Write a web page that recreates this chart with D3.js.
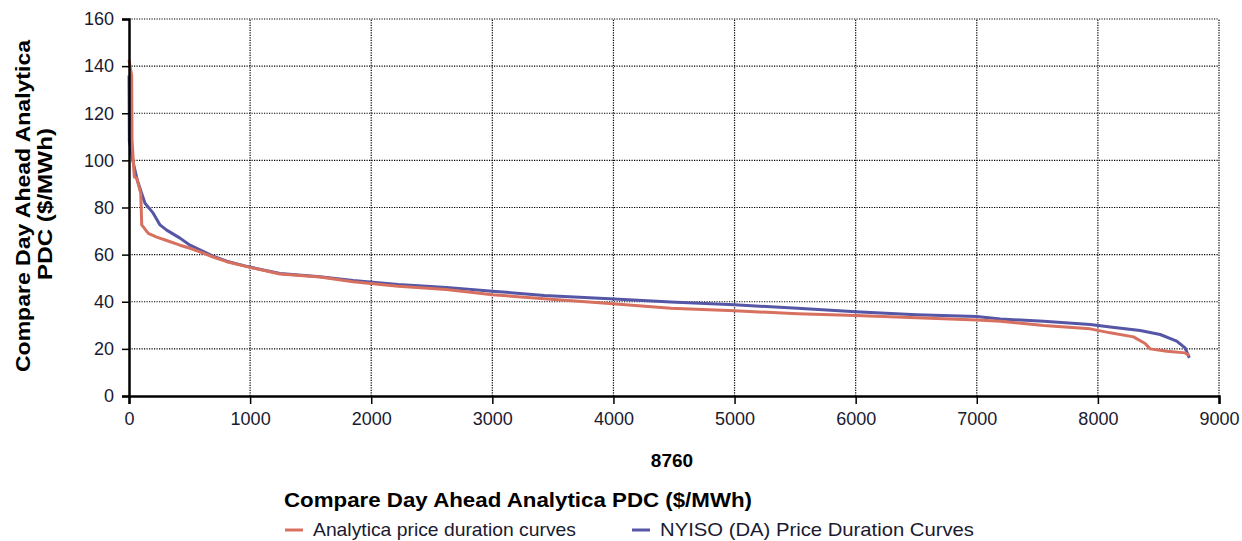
<!DOCTYPE html>
<html>
<head>
<meta charset="utf-8">
<script src="https://cdn.jsdelivr.net/npm/d3@7"></script>
<style>
  body { margin: 0; background: #fff; }
  svg text { font-family: "Liberation Sans", Arial, sans-serif; }
</style>
</head>
<body>
<div id="chart"></div>
<script>
// hours (sorted) and prices
const analyticaHours = [0, 22, 25, 44, 64, 97, 105, 159, 229, 311, 421, 504, 586, 694, 807, 972, 1247, 1577, 1850, 2223, 2620, 3000, 3428, 3967, 4474, 5000, 5520, 6000, 6502, 7000, 7195, 7552, 7937, 8102, 8294, 8390, 8431, 8569, 8720, 8755];
const analyticaPrice = [142.6, 136, 108.6, 93, 92.5, 86, 72.6, 69, 67.4, 66, 64, 62.7, 61.2, 59, 57, 54.9, 51.8, 50.5, 48.5, 46.6, 45.2, 43, 41.3, 39.3, 37.2, 36.2, 34.9, 34.2, 33.2, 32.3, 31.7, 29.9, 28.5, 26.8, 25.1, 22.3, 20, 19, 18.3, 17.2];

const nyisoHours = [0, 3, 35, 68, 105, 132, 200, 256, 311, 421, 504, 586, 694, 807, 972, 1247, 1577, 1850, 2223, 2620, 3000, 3428, 3967, 4474, 5000, 5520, 6000, 6502, 7000, 7195, 7552, 7937, 8102, 8349, 8514, 8651, 8720, 8755];
const nyisoPrice = [136, 108, 99, 91.7, 86, 81.8, 77.6, 72.6, 70.4, 67, 64, 62, 59.4, 57.2, 55, 52, 50.6, 49, 47.3, 46.1, 44.5, 42.7, 41.3, 39.9, 38.7, 37.2, 35.8, 34.5, 33.7, 32.7, 31.7, 30.3, 29.3, 27.8, 26.1, 23.3, 20.4, 16.2];

const xTicks = [0, 1000, 2000, 3000, 4000, 5000, 6000, 7000, 8000, 9000];
const yTicks = [0, 20, 40, 60, 80, 100, 120, 140, 160];

const seriesNames = ["Analytica price duration curves", "NYISO  (DA) Price Duration Curves"];
const seriesColors = ["#d8705f", "#5656a6"];

const width = 1242, height = 541;
const margin = {top: 19, right: 23, bottom: 145, left: 129};

const svg = d3.select('#chart').append('svg')
  .attr('width', width)
  .attr('height', height);

const x = d3.scaleLinear().domain([0, 9000]).range([margin.left, width - margin.right]);
const y = d3.scaleLinear().domain([0, 160]).range([height - margin.bottom, margin.top]);

// dotted grid
const grid = svg.append('g');
grid.selectAll('.gx')
  .data(xTicks.filter(d => d > 0))
  .join('line')
  .attr('x1', d => x(d)).attr('x2', d => x(d))
  .attr('y1', y(0)).attr('y2', y(160))
  .attr('stroke', '#000').attr('stroke-width', 1.2)
  .attr('stroke-dasharray', '1.2,1.3');
grid.selectAll('.gy')
  .data(yTicks.filter(d => d > 0))
  .join('line')
  .attr('x1', x(0)).attr('x2', x(9000))
  .attr('y1', d => y(d)).attr('y2', d => y(d))
  .attr('stroke', '#000').attr('stroke-width', 1.2)
  .attr('stroke-dasharray', '1.2,1.3');

// lines
const line = d3.line()
  .x(d => x(d[0]))
  .y(d => y(d[1]));

const series = [
  d3.zip(analyticaHours, analyticaPrice),
  d3.zip(nyisoHours, nyisoPrice)
];

// blue first, red on top
[1, 0].forEach(i => {
  svg.append('path')
    .datum(series[i])
    .attr('fill', 'none')
    .attr('stroke', seriesColors[i])
    .attr('stroke-width', 3)
    .attr('stroke-linejoin', 'round')
    .attr('d', line);
});

// axes
const xAxis = svg.append('g')
  .attr('transform', `translate(0,${y(0)})`)
  .call(d3.axisBottom(x).tickValues(xTicks).tickSize(8).tickPadding(8).tickFormat(d3.format('d')));
const yAxis = svg.append('g')
  .attr('transform', `translate(${x(0)},0)`)
  .call(d3.axisLeft(y).tickValues(yTicks).tickSize(7).tickPadding(8));

[xAxis, yAxis].forEach(a => {
  a.select('.domain').attr('stroke', '#000').attr('stroke-width', 2.5);
  a.selectAll('.tick line').attr('stroke', '#000').attr('stroke-width', 1.5);
  a.selectAll('.tick text')
    .attr('fill', '#1a1a30')
    .style('font-size', '18px')
    .style('font-family', '"Liberation Sans", Arial, sans-serif');
});

// axis titles
svg.append('text')
  .attr('x', 672).attr('y', 467)
  .attr('text-anchor', 'middle')
  .style('font-size', '19px').style('font-weight', 'bold')
  .text('8760');

const yTitle = svg.append('g');
yTitle.append('text')
  .attr('transform', 'translate(30,206) rotate(-90)')
  .attr('text-anchor', 'middle')
  .attr('textLength', 332).attr('lengthAdjust', 'spacingAndGlyphs')
  .style('font-size', '21px').style('font-weight', 'bold')
  .text('Compare Day Ahead Analytica');
yTitle.append('text')
  .attr('transform', 'translate(52,204) rotate(-90)')
  .attr('text-anchor', 'middle')
  .attr('textLength', 152).attr('lengthAdjust', 'spacingAndGlyphs')
  .style('font-size', '21px').style('font-weight', 'bold')
  .text('PDC ($/MWh)');

// legend
svg.append('text')
  .attr('x', 284).attr('y', 507)
  .attr('textLength', 468).attr('lengthAdjust', 'spacingAndGlyphs')
  .style('font-size', '21px').style('font-weight', 'bold')
  .text('Compare Day Ahead Analytica PDC ($/MWh)');

const legendX = [285, 632];
const legendLen = [263, 314];
const legend = svg.selectAll('.legend')
  .data(seriesNames)
  .join('g')
  .attr('transform', (d, i) => `translate(${legendX[i]},530)`);
legend.append('line')
  .attr('x1', 0).attr('x2', 18)
  .attr('stroke', (d, i) => seriesColors[i])
  .attr('stroke-width', 3);
legend.append('text')
  .attr('x', 28).attr('y', 6)
  .attr('textLength', (d, i) => legendLen[i]).attr('lengthAdjust', 'spacingAndGlyphs')
  .style('font-size', '19px')
  .attr('fill', '#1a1a30')
  .text(d => d);
</script>
</body>
</html>
